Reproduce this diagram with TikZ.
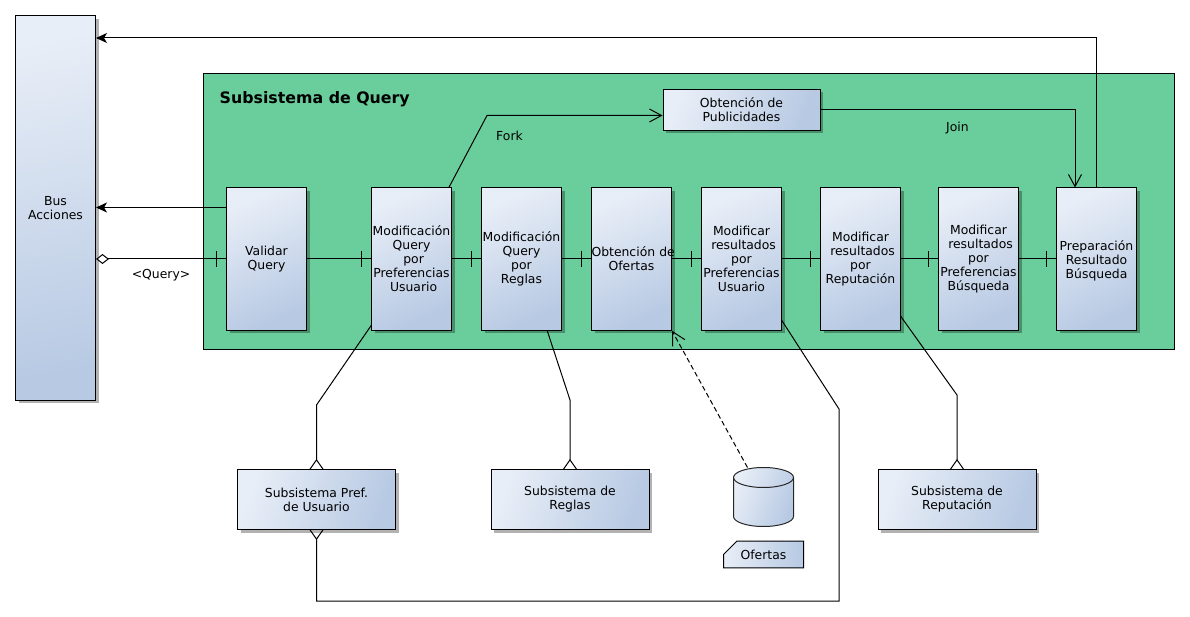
\documentclass[tikz,border=0pt]{standalone}
\usepackage{fontspec}
\setmainfont{DejaVu Sans}
\usetikzlibrary{arrows.meta,backgrounds,shadows,shapes.misc}
\definecolor{boxlight}{HTML}{E8EEF7}
\definecolor{boxdark}{HTML}{B7C9E3}
\definecolor{panelgreen}{HTML}{6ACE9C}
\tikzset{
    lbl/.style={font=\fontsize{12.4}{14}\selectfont, align=center, inner sep=0pt},
    boxshadow/.style={drop shadow={shadow xshift=3pt, shadow yshift=-3pt, opacity=.3, fill=black}},
    procbox/.style={lbl, draw=black, line width=1pt, boxshadow, top color=boxlight, bottom color=boxdark, shading angle=25,
        minimum width=80pt, minimum height=142.5pt, text width=80pt},
    subbox/.style={lbl, draw=black, line width=1pt, boxshadow, left color=boxlight, right color=boxdark, shading angle=70,
        minimum width=158pt, minimum height=60pt},
    link/.style={draw=black, line width=1pt},
    closedtip/.style={-{Stealth[length=11pt, width=10pt, inset=3pt]}},
    opentip/.style={-{Straight Barb[length=12pt, width=13pt]}},
}
\begin{document}
\begin{tikzpicture}[x=1pt, y=-1pt]
    \useasboundingbox (0,0) rectangle (1190,617);
    % Bus on the left
    \node[procbox, minimum height=384.5pt, shading angle=10] (bus) at (55.5,208) {Bus\\Acciones};
    % Row of steps
    \node[procbox] (validar) at (266.5,259) {Validar\\Query};
    \node[procbox] (modusr) at (411.5,259) {Modificación\\Query\\\ por\\Preferencias\\\ Usuario};
    \node[procbox] (modreg) at (521.5,259) {Modificación\\Query\\por\\Reglas};
    \node[procbox] (oferta) at (631.5,259) {Obtención~de\\Ofertas};
    \node[procbox] (resusr) at (741.5,259) {Modificar\\\ resultados\\por\\Preferencias\\Usuario};
    \node[procbox] (resrep) at (860.5,259) {Modificar\\\ resultados\\por\\Reputación};
    \node[procbox] (resbus) at (978.5,259) {Modificar\\\ resultados\\por\\Preferencias\\Búsqueda};
    \node[procbox] (prep) at (1096.5,259) {\ \ Preparación\\Resultado\\Búsqueda};
    \node[subbox, minimum width=157pt, minimum height=41pt] (public) at (741.5,110) {Obtención de\\Publicidades};
    % Outer subsystems
    \node[subbox] (subusr) at (316.5,499.5) {Subsistema Pref.\\de Usuario};
    \node[subbox] (subreg) at (570.0,499.5) {Subsistema de\\Reglas};
    \node[subbox] (subrep) at (957.0,499.5) {Subsistema de\\Reputación};
    % Database and its tag
    \node[minimum width=60pt, minimum height=59pt, inner sep=0pt, outer sep=0pt] (db) at (763.5,497) {};
    \draw[line width=1pt, draw=black!85, left color=boxlight, right color=boxdark, shading angle=70]
        ([yshift=-10pt]db.north west) arc[start angle=180, end angle=0, x radius=30pt, y radius=10pt]
        -- ([yshift=10pt]db.south east) arc[start angle=0, end angle=-180, x radius=30pt, y radius=10pt] -- cycle;
    \draw[line width=1pt, draw=black!85] ([yshift=-10pt]db.north west) arc[start angle=180, end angle=360, x radius=30pt, y radius=10pt];
    \node[lbl, chamfered rectangle, chamfered rectangle corners=north west, chamfered rectangle xsep=10pt, chamfered rectangle ysep=8.5pt,
        draw=black, line width=1pt, left color=boxlight, right color=boxdark, minimum width=80pt, minimum height=26pt] (dbtag) at (763.5,554.5) {Ofertas};
    % Free labels
    \node[lbl, anchor=west, font=\fontsize{15.8}{18}\selectfont\bfseries] (title) at (219.5,99) {Subsistema de Query};
    \node[lbl] (querylbl) at (161,275) {<Query>};
    \node[lbl] (forklbl) at (509.5,136) {Fork};
    \node[lbl] (joinlbl) at (957.5,128.5) {Join};
    % Dashed link from the database
    \draw[black, line width=1pt, dash pattern=on 5pt off 3pt, -{Straight Barb[length=13pt, width=14pt]}] ([xshift=-16pt]db.north) -- (oferta.south east);
    \begin{scope}[on background layer]
        \node[draw=black, line width=1pt, fill=panelgreen, inner sep=0pt, minimum width=970.5pt, minimum height=275.5pt] (panel) at (688.75,211.5) {};
        % Row links, tick just before each box
        \draw[link, {Diamond[open, length=13pt, width=10pt, fill=white]}-] (bus.east |- validar.west) -- (validar.west);
        \draw[link] ([shift={(-10,-8)}]validar.west) -- ++(0,16);
        \draw[link] (validar.east) -- (modusr.west);
        \draw[link] ([shift={(-10,-8)}]modusr.west) -- ++(0,16);
        \draw[link] (modusr.east) -- (modreg.west);
        \draw[link] ([shift={(-10,-8)}]modreg.west) -- ++(0,16);
        \draw[link] (modreg.east) -- (oferta.west);
        \draw[link] ([shift={(-10,-8)}]oferta.west) -- ++(0,16);
        \draw[link] (oferta.east) -- (resusr.west);
        \draw[link] ([shift={(-10,-8)}]resusr.west) -- ++(0,16);
        \draw[link] (resusr.east) -- (resrep.west);
        \draw[link] ([shift={(-10,-8)}]resrep.west) -- ++(0,16);
        \draw[link] (resrep.east) -- (resbus.west);
        \draw[link] ([shift={(-10,-8)}]resbus.west) -- ++(0,16);
        \draw[link] (resbus.east) -- (prep.west);
        \draw[link] ([shift={(-10,-8)}]prep.west) -- ++(0,16);
        % Back to the bus
        \draw[link, closedtip] (validar.west |- 0,207.5) -- (bus.east |- 0,207.5);
        \draw[link, closedtip] (prep.north) -- (1096.5,38) -- (bus.east |- 0,38);
        % Fork and join
        \draw[link, opentip] ([xshift=-3pt]modusr.north east) -- (487,115.5) -- ([yshift=-5.5pt]public.west);
        \draw[link, opentip] (public.east) -- (1075,110) -- (1075,187.5);
        % Links to outer subsystems
        \draw[link, -{Diamond[open, length=20pt, width=14pt, fill=white]}] (371.5,325) -- (316.5,405) -- ([yshift=-10pt]subusr.north);
        \draw[link, {Diamond[open, length=20pt, width=14pt, fill=white]}-] ([yshift=10pt]subusr.south) -- (316.5,601) -- (839,601) -- (839,409) -- (781.5,320);
        \draw[link, -{Diamond[open, length=20pt, width=14pt, fill=white]}] (547,330) -- (570,400) -- ([yshift=-10pt]subreg.north);
        \draw[link, -{Diamond[open, length=20pt, width=14pt, fill=white]}] (900.5,316) -- (957,395) -- ([yshift=-10pt]subrep.north);
    \end{scope}
\end{tikzpicture}
\end{document}
